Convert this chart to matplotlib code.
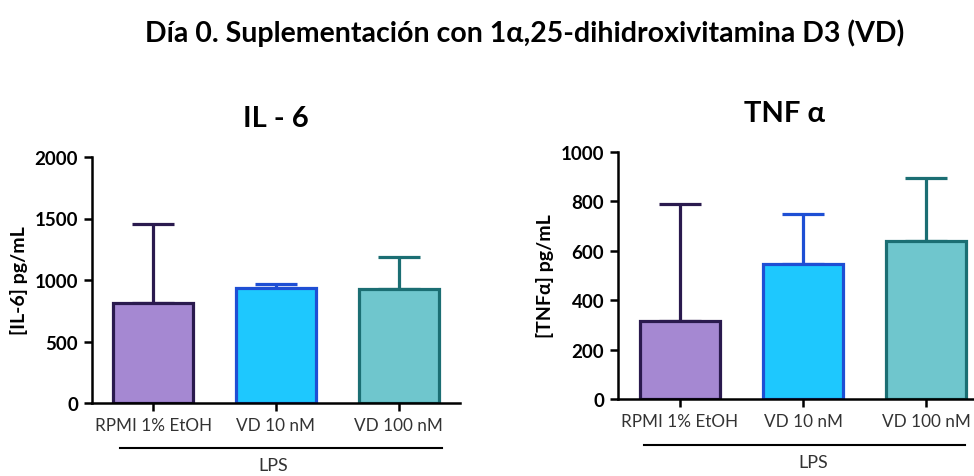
import matplotlib.pyplot as plt
import numpy as np

plt.rcParams['font.family'] = ['Lato', 'DejaVu Sans']

# data: mean and upper error (SEM)
groups = ['RPMI 1% EtOH', 'VD 10 nM', 'VD 100 nM']
il6_mean = [814, 936, 928]
il6_sem = [638, 33, 258]
tnf_mean = [315, 547, 639]
tnf_sem = [475, 200, 254]

fills = ['#A588D2', '#1EC8FE', '#6FC6CD']
edges = ['#2A1A4E', '#1E4FD4', '#1B6E73']

fig = plt.figure(figsize=(9.74, 4.77), dpi=100)

def panel(ax, means, sems, title, ylabel, yticks, title_x):
    x = np.arange(len(groups))
    for i in range(len(groups)):
        ax.errorbar(x[i], means[i], yerr=[[0], [sems[i]]], color=edges[i],
                    lw=2.3, capsize=15, capthick=2.3, zorder=1)
        ax.bar(x[i], means[i], width=0.65, color=fills[i], edgecolor=edges[i],
               linewidth=2.3, zorder=2)
    ax.set_xlim(-0.5, 2.5)
    ax.set_ylim(0, yticks[-1])
    ax.set_yticks(yticks)
    ax.set_yticklabels([str(t) for t in yticks], fontsize=13.5, fontweight='bold')
    ax.set_xticks(x)
    ax.set_xticklabels(groups, fontsize=12.3, color='#333333')
    ax.spines['top'].set_visible(False)
    ax.spines['right'].set_visible(False)
    for s in ['left', 'bottom']:
        ax.spines[s].set_linewidth(1.8)
    ax.tick_params(axis='both', width=1.8, length=6, pad=4)
    ax.set_ylabel(ylabel, fontsize=14, fontweight='bold', labelpad=5)
    ax.set_title(title, fontsize=21, fontweight='bold', x=title_x, pad=22)
    ax.margins(y=0)

ax1 = fig.add_axes([92/974, 73/477, 368/974, 246/477])
panel(ax1, il6_mean, il6_sem, 'IL - 6', '[IL-6] pg/mL', [0, 500, 1000, 1500, 2000], 0.5)

ax2 = fig.add_axes([618/974, 77/477, 370/974, 247/477])
panel(ax2, tnf_mean, tnf_sem, 'TNF α', '[TNFα] pg/mL', [0, 200, 400, 600, 800, 1000], 0.45)

# LPS bracket lines
fig.add_artist(plt.Line2D([120/974, 442/974], [1 - 449/477] * 2, color='black', lw=1.5))
fig.text(273/974, 1 - 466/477, 'LPS', ha='center', va='center', fontsize=13, color='#333333')
fig.add_artist(plt.Line2D([644/974, 965/974], [1 - 446/477] * 2, color='black', lw=1.5))
fig.text(813/974, 1 - 463/477, 'LPS', ha='center', va='center', fontsize=13, color='#333333')

fig.text(525/974, 1 - 33/477, 'Día 0. Suplementación con 1α,25-dihidroxivitamina D3 (VD)',
         ha='center', va='center', fontsize=20.5, fontweight='bold')

fig.savefig('out.png', dpi=100)
